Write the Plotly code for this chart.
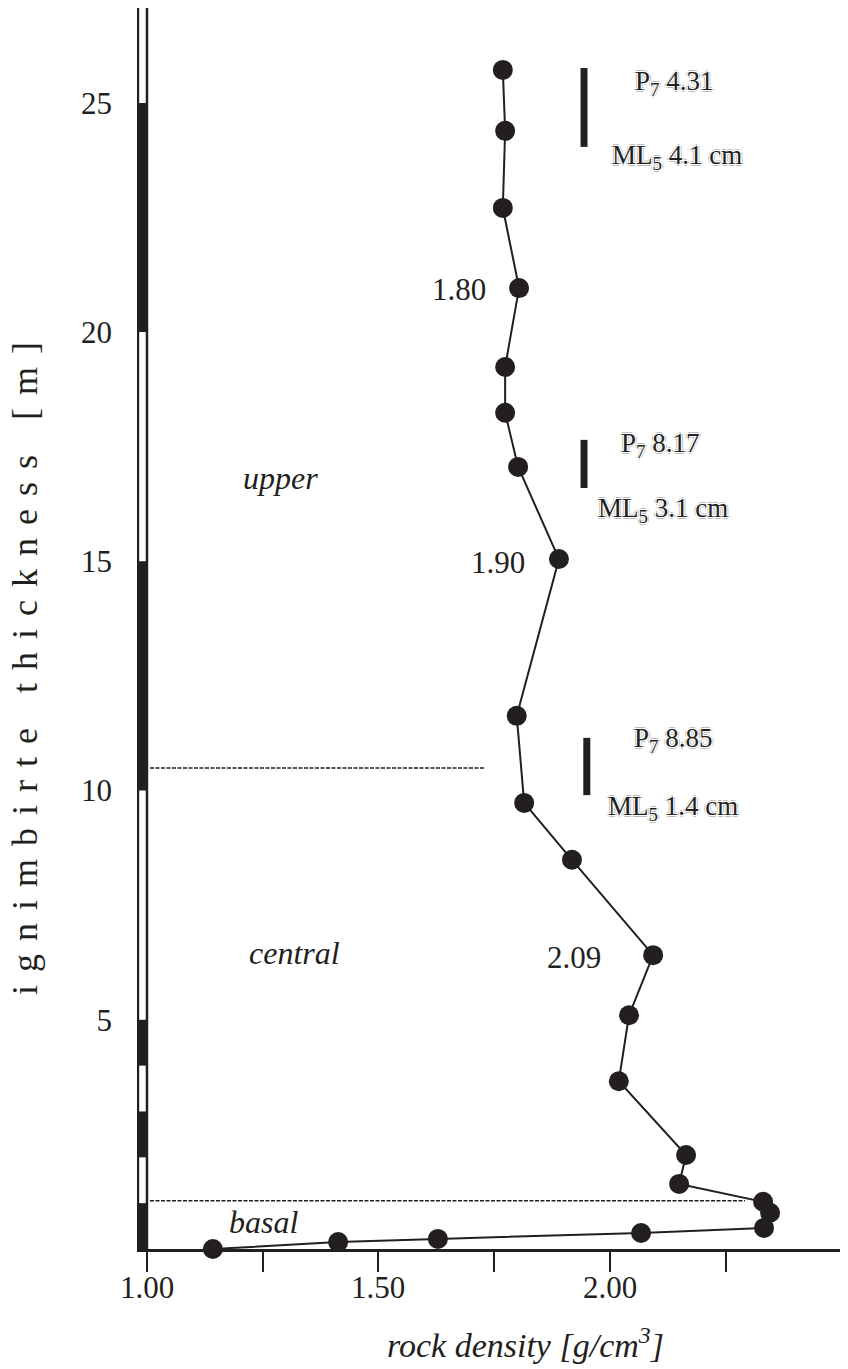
import plotly.graph_objects as go

# ---- data ----
density = [1.143, 1.413, 1.628, 2.066, 2.331, 2.344, 2.329, 2.148, 2.163, 2.018, 2.040, 2.092,
           1.917, 1.814, 1.798, 1.889, 1.801, 1.773, 1.773, 1.803, 1.768, 1.773, 1.768]
thickness = [0.00, 0.15, 0.22, 0.35, 0.46, 0.79, 1.03, 1.42, 2.05, 3.66, 5.10, 6.41,
             8.49, 9.73, 11.63, 15.05, 17.06, 18.24, 19.24, 20.96, 22.71, 24.39, 25.72]

mean_labels = ["1.80", "1.90", "2.09"]
mean_x = [1.673, 1.758, 1.921]
mean_y = [20.92, 14.97, 6.35]

unit_names = ["upper", "central", "basal"]
unit_x = [1.288, 1.320, 1.252]
unit_y = [16.82, 6.46, 0.59]

boundary_y = [10.49, 1.05]
boundary_x_end = [1.73, 2.29]

interval_x = [1.943, 1.943, 1.949]
interval_top = [25.76, 17.65, 11.15]
interval_bottom = [24.04, 16.60, 9.90]
p7_text = ["P<sub>7</sub> 4.31", "P<sub>7</sub> 8.17", "P<sub>7</sub> 8.85"]
p7_x = [2.138, 2.107, 2.135]
p7_y = [25.44, 17.54, 11.10]
ml5_text = ["ML<sub>5</sub> 4.1 cm", "ML<sub>5</sub> 3.1 cm", "ML<sub>5</sub> 1.4 cm"]
ml5_x = [2.143, 2.113, 2.135]
ml5_y = [23.82, 16.12, 9.62]

scale_black = [(0, 1), (2, 3), (4, 5), (10, 15), (20, 25)]

x_ticks = [1.0, 1.25, 1.5, 1.75, 2.0, 2.25]
x_labels = ["1.00", "1.50", "2.00"]
x_label_vals = [1.0, 1.5, 2.0]
y_ticks = [5, 10, 15, 20, 25]

X_RANGE = [0.9795, 2.512]
Y_RANGE = [0, 27.07]
INK = "#231f20"
FONT = "Liberation Serif"

# page offset of the plot (browser body margin is 8px)
OFF = 8
PLOT_L, PLOT_T, PLOT_W, PLOT_H = 137, 8, 711, 1241


def px_to_paper_x(px):
    return (px - PLOT_L) / PLOT_W


def px_to_paper_y(py):
    return (PLOT_T + PLOT_H - py) / PLOT_H


fig = go.Figure()

# profile
fig.add_trace(go.Scatter(
    x=density, y=thickness, mode="lines+markers",
    line=dict(color=INK, width=2),
    marker=dict(color=INK, size=20),
    cliponaxis=False, showlegend=False, hoverinfo="skip"))

# unit boundaries
for by, bx in zip(boundary_y, boundary_x_end):
    fig.add_trace(go.Scatter(
        x=[1.0075, bx], y=[by, by], mode="lines",
        line=dict(color=INK, width=1.5, dash="4px,1.5px"),
        showlegend=False, hoverinfo="skip"))

# sampled intervals
for ix, it, ib in zip(interval_x, interval_top, interval_bottom):
    fig.add_trace(go.Scatter(
        x=[ix, ix], y=[ib, it], mode="lines",
        line=dict(color=INK, width=7),
        showlegend=False, hoverinfo="skip"))

shapes = []
# scale column
strip_l, strip_r = X_RANGE[0] + 0.002, 1.001
for y0, y1 in scale_black:
    shapes.append(dict(type="rect", xref="x", yref="y", x0=strip_l, x1=strip_r,
                       y0=y0 - (0.08 if y0 == 0 else 0), y1=y1,
                       fillcolor=INK, line=dict(width=0), layer="above"))
for sx in (strip_l, strip_r):
    shapes.append(dict(type="line", xref="x", yref="y", x0=sx, x1=sx,
                       y0=-0.08, y1=Y_RANGE[1], line=dict(color=INK, width=2.5)))

annotations = []
for t, ax_, ay_ in zip(mean_labels, mean_x, mean_y):
    annotations.append(dict(x=ax_, y=ay_, xref="x", yref="y", text=t, showarrow=False,
                            font=dict(family=FONT, size=31, color=INK)))
for t, ax_, ay_ in zip(unit_names, unit_x, unit_y):
    annotations.append(dict(x=ax_, y=ay_, xref="x", yref="y", text=f"<i>{t}</i>",
                            showarrow=False, font=dict(family=FONT, size=32, color=INK)))
halo = ("1px 1px 0 #fff, -1px -1px 0 #fff, 1px -1px 0 #fff, -1px 1px 0 #fff, "
        "2px 0 0 #bbbbbb, -2px 0 0 #bbbbbb, 0 2px 0 #bbbbbb, 0 -2px 0 #bbbbbb")
for texts, xs, ys in ((p7_text, p7_x, p7_y), (ml5_text, ml5_x, ml5_y)):
    for t, ax_, ay_ in zip(texts, xs, ys):
        annotations.append(dict(x=ax_, y=ay_, xref="x", yref="y", text=t, showarrow=False,
                                font=dict(family=FONT, size=27, color=INK, shadow=halo)))

# x tick labels
for t, v in zip(x_labels, x_label_vals):
    annotations.append(dict(x=v, y=px_to_paper_y(1288), xref="x", yref="paper", text=t,
                            showarrow=False, xanchor="center", yanchor="middle",
                            font=dict(family=FONT, size=31, color=INK)))

# axis titles
annotations.append(dict(x=px_to_paper_x(25), y=px_to_paper_y(662), xref="paper", yref="paper",
                        text='<span style="letter-spacing:13px">ignimbirte thickness [m]</span>',
                        textangle=-90, showarrow=False, xanchor="center", yanchor="middle",
                        font=dict(family=FONT, size=36, color=INK)))
annotations.append(dict(x=px_to_paper_x(525), y=px_to_paper_y(1343), xref="paper", yref="paper",
                        text="<i>rock density [g/cm<sup>3</sup>]</i>", showarrow=False,
                        xanchor="center", yanchor="middle",
                        font=dict(family=FONT, size=34, color=INK)))

fig.update_layout(
    width=848 - OFF, height=1369 - OFF,
    margin=dict(l=PLOT_L - OFF, r=0, t=PLOT_T - OFF, b=1369 - PLOT_T - PLOT_H),
    paper_bgcolor="white", plot_bgcolor="white",
    font=dict(family=FONT, size=30, color=INK),
    shapes=shapes, annotations=annotations,
    xaxis=dict(range=X_RANGE, tickvals=x_ticks, showticklabels=False,
               ticks="outside", ticklen=20, tickwidth=2, tickcolor=INK,
               showline=True, linewidth=3, linecolor=INK,
               showgrid=False, zeroline=False),
    yaxis=dict(range=Y_RANGE, tickvals=y_ticks, ticks="", showline=False,
               showgrid=False, zeroline=False, ticklabelstandoff=24,
               tickfont=dict(family=FONT, size=31, color=INK)),
)

fig.write_html("out.html")
